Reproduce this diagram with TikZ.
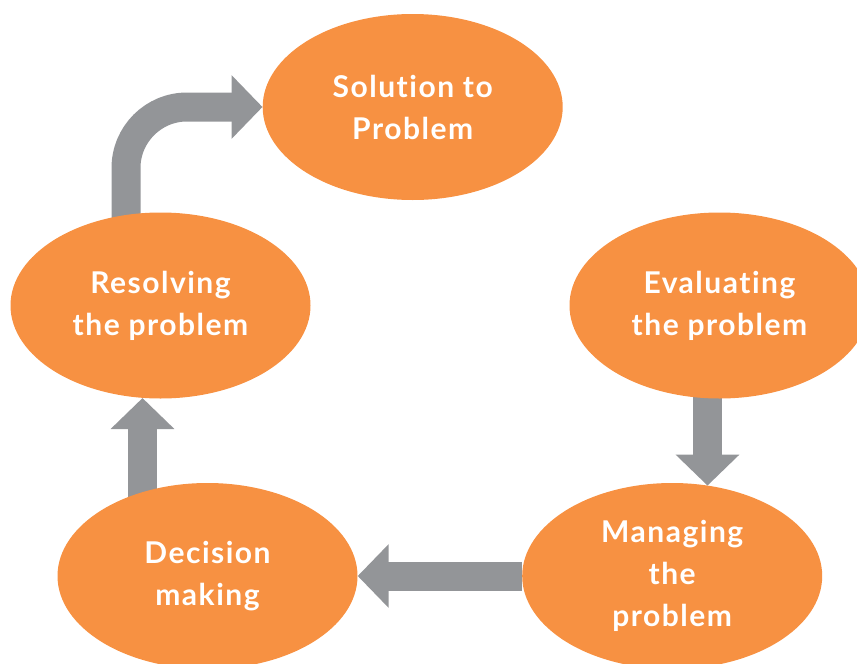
\documentclass[tikz,border=0pt]{standalone}
\usepackage{fontspec}
\setmainfont{Lato}[LetterSpace=5,Ligatures=NoCommon]
\definecolor{stageorange}{RGB}{247,145,66}
\definecolor{flowgray}{RGB}{147,149,152}
\usetikzlibrary{shapes,arrows.meta,backgrounds}

\begin{document}
\begin{tikzpicture}[x=1pt,y=-1pt,
    stage/.style={ellipse, fill=stageorange, minimum width=300pt, minimum height=186pt,
        inner sep=0pt, align=center, text=white, font=\bfseries\fontsize{30}{42}\selectfont},
    flow/.style={draw=flowgray, line width=29pt, -{Triangle[width=62pt,length=31pt]}}]
    \useasboundingbox (0,0) rectangle (857,664);
    \clip (0,0) rectangle (857,664);

    % Stages
    \node[stage] (solution) at (412.7,107) {Solution to\\Problem};
    \node[stage] (resolving) at (160.5,305.5) {Resolving\\the problem};
    \node[stage] (evaluating) at (719.5,305.5) {Evaluating\\the problem};
    \node[stage] (managing) at (672.2,576) {Managing\\the\\problem};
    \node[stage] (decision) at (207.5,576) {Decision\\making};

    % Flow arrows
    \begin{scope}[on background layer]
        \draw[flow] ([xshift=-12pt]evaluating.center) -- ([xshift=-12pt]evaluating.center |- managing.68.6);
        \draw[flow] (managing.west) -- (decision.east);
        \draw[flow] ([xshift=-65pt]decision.center) -- ([xshift=-65pt]decision.center |- resolving.259);
        \draw[flow, rounded corners=61pt] ([xshift=-34.5pt]resolving.center) |- (solution.west);
    \end{scope}
\end{tikzpicture}
\end{document}
